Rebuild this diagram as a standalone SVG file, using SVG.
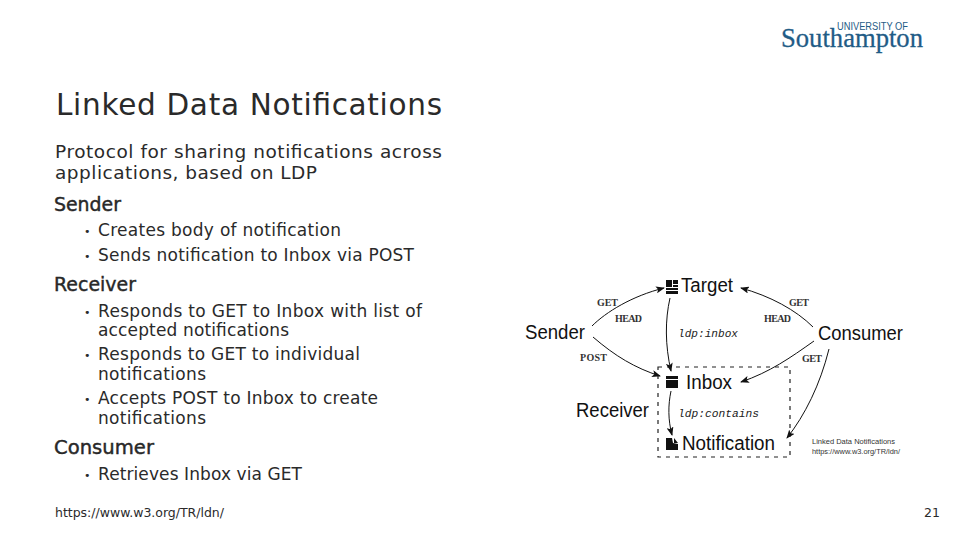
<svg xmlns="http://www.w3.org/2000/svg" width="960" height="540" viewBox="0 0 960 540">
<style>
text{font-family:"DejaVu Sans",sans-serif;fill:#2a2a2a}
.t{font-size:29.5px}
.b{font-size:18.5px}
.h{font-size:19px;stroke:#222;stroke-width:.4}
.i{font-size:17px}
.p{font-size:11px}
.n{font-family:"Liberation Sans",Arial,sans-serif;font-size:19.5px;fill:#111}
.m{font-family:"Liberation Serif",serif;font-size:10px;fill:#333;font-weight:bold}
.c{font-family:"Liberation Mono",monospace;font-size:10.5px;font-style:italic;fill:#222}
.e{fill:none;stroke:#111;stroke-width:1}
.d{fill:none;stroke:#222;stroke-width:1.2;stroke-dasharray:4 5}
.f{font-family:"Liberation Sans",Arial,sans-serif;font-size:7px;fill:#333}
.u{font-size:12.5px}
</style>
<defs><marker id="a" markerWidth="9" markerHeight="7" refX="8" refY="3.5" orient="auto" markerUnits="userSpaceOnUse"><path d="M0 0L9 3.5L0 7L2 3.5Z" fill="#111"/></marker></defs>
<rect width="960" height="540" fill="#fff"/>
<g id="logo">
<text x="781" y="47" textLength="142" lengthAdjust="spacingAndGlyphs" style="font-family:'Liberation Serif',serif;font-size:28px;fill:#1f5c86;stroke:#1f5c86;stroke-width:.3">Southampton</text>
<text x="837" y="30" textLength="71" lengthAdjust="spacingAndGlyphs" style="font-family:'Liberation Sans',sans-serif;font-size:10px;fill:#1f5c86">UNIVERSITY OF</text>
</g>
<g id="slide-text">
<text class="t" x="56" y="115" textLength="386">Linked Data Notifications</text>
<text class="b" x="55" y="158" textLength="387">Protocol for sharing notifications across</text>
<text class="b" x="55" y="179" textLength="262">applications, based on LDP</text>
<text class="h" x="54" y="211" textLength="67" lengthAdjust="spacingAndGlyphs">Sender</text>
<text class="p" x="84" y="235">•</text><text class="i" x="98" y="236" textLength="243">Creates body of notification</text>
<text class="p" x="84" y="260">•</text><text class="i" x="98" y="261" textLength="316">Sends notification to Inbox via POST</text>
<text class="h" x="54" y="291" textLength="82" lengthAdjust="spacingAndGlyphs">Receiver</text>
<text class="p" x="84" y="316">•</text><text class="i" x="98" y="317" textLength="324">Responds to GET to Inbox with list of</text>
<text class="i" x="98" y="336" textLength="191">accepted notifications</text>
<text class="p" x="84" y="359">•</text><text class="i" x="98" y="360" textLength="262">Responds to GET to individual</text>
<text class="i" x="98" y="380" textLength="108">notifications</text>
<text class="p" x="84" y="403">•</text><text class="i" x="98" y="404" textLength="280">Accepts POST to Inbox to create</text>
<text class="i" x="98" y="424" textLength="108">notifications</text>
<text class="h" x="54" y="454" textLength="100" lengthAdjust="spacingAndGlyphs">Consumer</text>
<text class="p" x="84" y="479">•</text><text class="i" x="98" y="480" textLength="204">Retrieves Inbox via GET</text>
<text class="u" x="55" y="517" textLength="169">https://www.w3.org/TR/ldn/</text>
<text class="u" x="924" y="517" textLength="16">21</text>
</g>
<g id="connectors">
<rect class="d" x="658" y="367" width="132" height="90"/>
<path class="e" d="M592 326C606 312 632 296 664 288" marker-end="url(#a)"/>
<path class="e" d="M593 337C615 356 635 368 660 376" marker-end="url(#a)"/>
<path class="e" d="M670 298C665 320 665 345 671 371" marker-end="url(#a)"/>
<path class="e" d="M671 391C668 405 668 420 672 435" marker-end="url(#a)"/>
<path class="e" d="M813 327C796 310 770 296 741 288" marker-end="url(#a)"/>
<path class="e" d="M814 341C790 358 770 372 741 382" marker-end="url(#a)"/>
<path class="e" d="M829 349C820 385 805 415 787 438" marker-end="url(#a)"/>
</g>
<g id="sender"><text class="n" x="525" y="339" textLength="60" lengthAdjust="spacingAndGlyphs">Sender</text></g>
<g id="target">
<path d="M666 280h6v7h-6zM673 280h5v4h-5zM673 285h5v2h-5zM666 288h12v2h-12zM666 291h12v3h-12z" fill="#111"/>
<text class="n" x="681" y="292" textLength="52" lengthAdjust="spacingAndGlyphs">Target</text>
</g>
<g id="consumer"><text class="n" x="818" y="340" textLength="85" lengthAdjust="spacingAndGlyphs">Consumer</text></g>
<g id="inbox">
<path d="M666 376h12v3h-12zM666 380h12v8h-12z" fill="#111"/>
<text class="n" x="686" y="389" textLength="46" lengthAdjust="spacingAndGlyphs">Inbox</text>
</g>
<g id="receiver"><text class="n" x="576" y="417" textLength="73" lengthAdjust="spacingAndGlyphs">Receiver</text></g>
<g id="notification">
<path d="M666 438h6l1 5 5 1v6h-12zM674 438l4 5h-4z" fill="#111"/>
<text class="n" x="682" y="450" textLength="93" lengthAdjust="spacingAndGlyphs">Notification</text>
</g>
<g id="labels">
<text class="m" x="597" y="306" textLength="21">GET</text>
<text class="m" x="615" y="322" textLength="27">HEAD</text>
<text class="m" x="580" y="361" textLength="27">POST</text>
<text class="c" x="678" y="337" textLength="60" lengthAdjust="spacingAndGlyphs">ldp:inbox</text>
<text class="c" x="678" y="417" textLength="81" lengthAdjust="spacingAndGlyphs">ldp:contains</text>
<text class="m" x="789" y="306" textLength="20">GET</text>
<text class="m" x="764" y="322" textLength="27">HEAD</text>
<text class="m" x="802" y="362" textLength="20">GET</text>
<text class="f" x="812" y="444" textLength="83" lengthAdjust="spacingAndGlyphs">Linked Data Notifications</text>
<text class="f" x="812" y="454" textLength="88" lengthAdjust="spacingAndGlyphs">https://www.w3.org/TR/ldn/</text>
</g>
</svg>
